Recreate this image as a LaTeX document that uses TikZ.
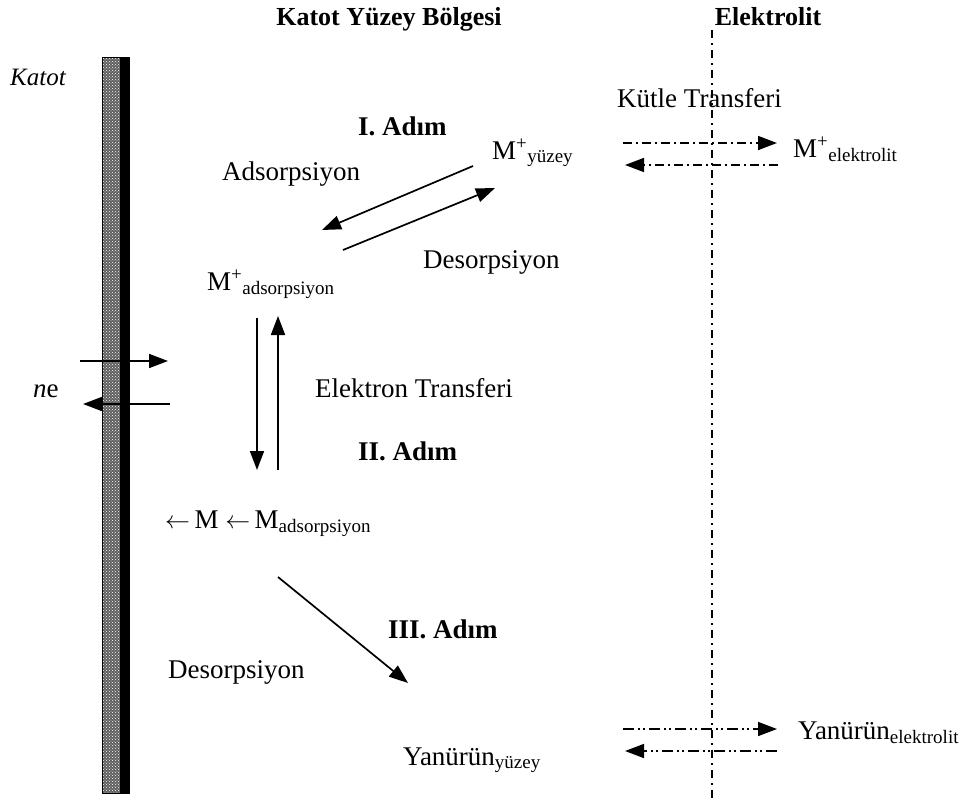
\documentclass[tikz,border=0pt]{standalone}
\usepackage{fontspec}
\setmainfont{Liberation Serif}
\usepackage{tikz}
\usetikzlibrary{arrows.meta, patterns, calc}
\definecolor{katotgray}{HTML}{5E5E5E}

\tikzset{
  lbl/.style={anchor=base west, inner sep=0pt, font=\fontsize{27}{27}\selectfont},
  adim/.style={anchor=base west, inner sep=0pt, font=\fontsize{27}{27}\selectfont\bfseries},
  baslik/.style={anchor=base, inner sep=0pt, font=\fontsize{26}{26}\selectfont\bfseries},
  rxn/.style={line width=1.7pt, -{Triangle[length=19pt,width=14pt]}},
  transfer/.style={line width=1.6pt, -{Triangle[length=19pt,width=14pt]}, dash pattern=on 9pt off 4pt on 2pt off 4pt},
  transfer2/.style={line width=1.6pt, -{Triangle[length=19pt,width=14pt]}, dash pattern=on 11pt off 4pt on 2pt off 3pt on 2pt off 4pt}
}
\newcommand{\sub}[1]{\textsubscript{\fontsize{19}{19}\selectfont #1}}

\begin{document}
\begin{tikzpicture}[x=1pt, y=-1pt]
  \useasboundingbox (0,0) rectangle (971,798);

  % katot
  \fill[katotgray] (102,57) rectangle (120,793);
  \fill[pattern=crosshatch dots, pattern color=white] (102,57) rectangle (120,793);
  \fill[black] (120,57) rectangle (129,793);
  \draw[black, line width=0.6pt] (102,57) rectangle (129,793);

  % elektrolit siniri
  \draw[line width=1.2pt, dash pattern=on 8pt off 5pt on 2pt off 5pt] (712,30) -- (712,798);

  % basliklar
  \node[baslik] (bolge) at (389,25) {Katot Yüzey Bölgesi};
  \node[baslik] (elektrolit) at (768,25) {Elektrolit};
  \node[lbl, font=\fontsize{25}{25}\selectfont\itshape] (katot) at (10,85) {Katot};
  \node[lbl] (ne) at (33,397) {\textit{n}e};

  \node[adim] (adim1) at (358,135) {I. Adım};
  \node[adim] (adim2) at (358,460) {II. Adım};
  \node[adim] (adim3) at (388,638) {III. Adım};

  \node[lbl] (kutle) at (617,107) {Kütle Transferi};
  \node[lbl] (myuzey) at (492,159) {M\textsuperscript{+}\sub{yüzey}};
  \node[lbl] (melektrolit) at (793,157) {M\textsuperscript{+}\sub{elektrolit}};
  \node[lbl] (ads) at (222,180) {Adsorpsiyon};
  \node[lbl] (des1) at (423,268) {Desorpsiyon};
  \node[lbl] (mads) at (207,290) {M\textsuperscript{+}\sub{adsorpsiyon}};
  \node[lbl] (etransfer) at (315,397) {Elektron Transferi};
  \node[lbl] (metal) at (165,528) {$\leftarrow$\,M $\leftarrow$\,M\sub{adsorpsiyon}};
  \node[lbl] (des2) at (168,678) {Desorpsiyon};
  \node[lbl] (yyuzey) at (403,765) {Yanürün\sub{yüzey}};
  \node[lbl] (yelektrolit) at (798,739) {Yanürün\sub{elektrolit}};

  % ok uclari
  \foreach \n/\x/\y in {neA/80/361, neB/168/361, neC/170/404, neD/83/404,
                        adsA/473/166, adsB/322/230, desA/343/250, desB/495/188,
                        etA/257/318, etB/257/470, etC/278/470, etD/278/316,
                        yanA/278/577, yanB/408/683,
                        mtA/623/143, mtB/777/143, mtC/778/165, mtD/625/165,
                        ytA/623/729, ytB/777/729, ytC/777/751, ytD/625/751}
    \coordinate (\n) at (\x,\y);

  \draw[rxn] (neA) -- (neB);
  \draw[rxn] (neC) -- (neD);
  \draw[rxn] (adsA) -- (adsB);
  \draw[rxn] (desA) -- (desB);
  \draw[rxn] (etA) -- (etB);
  \draw[rxn] (etC) -- (etD);
  \draw[rxn] (yanA) -- (yanB);

  \draw[transfer] (mtA) -- (mtB);
  \draw[transfer] (mtC) -- (mtD);
  \draw[transfer2] (ytA) -- (ytB);
  \draw[transfer2] (ytC) -- (ytD);
\end{tikzpicture}
\end{document}
